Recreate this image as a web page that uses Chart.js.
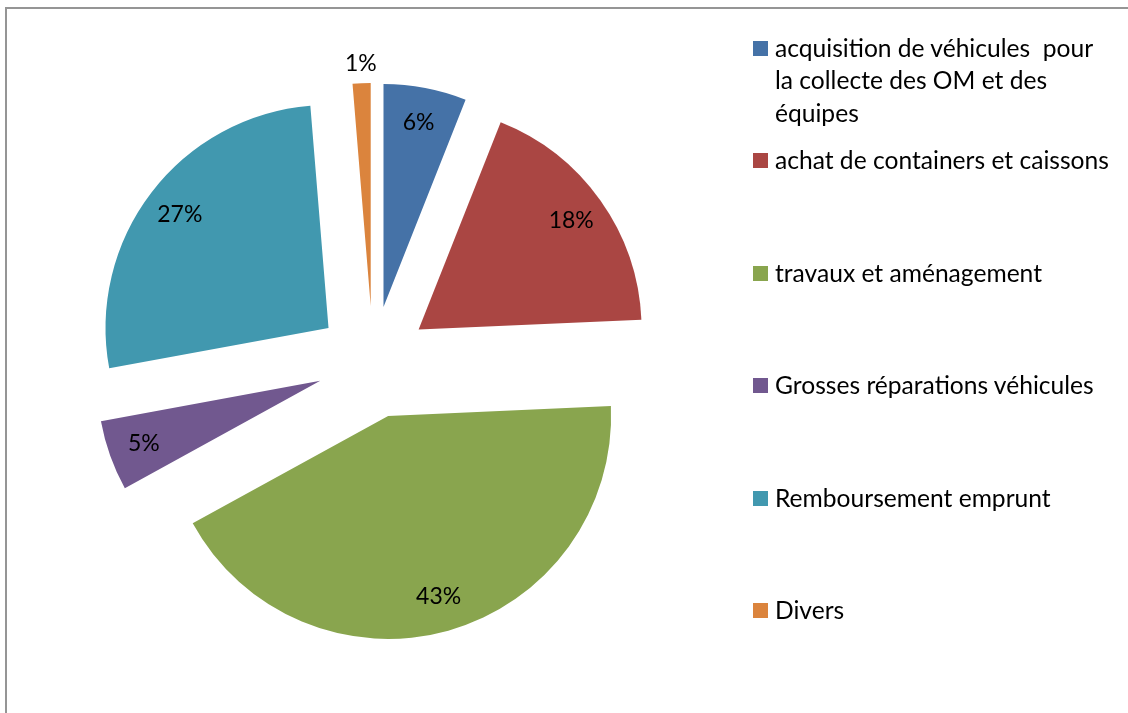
<!DOCTYPE html>
<html lang="fr">
<head>
<meta charset="utf-8">
<title>Répartition des dépenses</title>
<script src="https://cdn.jsdelivr.net/npm/chart.js@4.4.1/dist/chart.umd.min.js"></script>
<style>
    html, body { margin: 0; padding: 0; background: #fff; overflow: hidden; }
    #wrap { position: relative; width: 1128px; height: 713px; }
    #frame {
        position: absolute; left: 5px; top: 7px; width: 1200px; height: 800px;
        border-left: 2px solid #959595; border-top: 2px solid #959595;
    }
    #pie { position: absolute; left: 0; top: 0; }
    .legend-item { position: absolute; left: 753px; font-family: Lato, sans-serif; font-size: 24.6px; line-height: 32.5px; color: #000; }
    .legend-box { position: absolute; left: 0; top: 9px; width: 15px; height: 15px; }
    .legend-text { margin-left: 22px; white-space: pre; }
</style>
</head>
<body>
<div id="wrap">
    <div id="frame"></div>
    <canvas id="pie" width="1128" height="713"></canvas>
    <div id="legend"></div>
</div>
<script>
// Data
const categories = [
    ['acquisition de véhicules  pour', 'la collecte des OM et des', 'équipes'],
    'achat de containers et caissons',
    'travaux et aménagement',
    'Grosses réparations véhicules',
    'Remboursement emprunt',
    'Divers'
];
const shares = [6.0, 18.3, 42.7, 5.1, 26.6, 1.3];
const sliceColors = ['#4572A7', '#AA4643', '#89A54E', '#71588F', '#4198AF', '#DB843D'];

// Look
const EXPLODE = 56;      // px every slice is pulled out of the centre
const PIE_RADIUS = 223;
const LABEL_FONT = '23px Lato, sans-serif';

// Pull every slice away from the centre along its mid angle
const explodePlugin = {
    id: 'explode',
    afterDatasetUpdate(chart, args) {
        args.meta.data.forEach(arc => {
            const mid = (arc.startAngle + arc.endAngle) / 2;
            arc.x += Math.cos(mid) * EXPLODE;
            arc.y += Math.sin(mid) * EXPLODE;
        });
    }
};

// Percent labels, inside the slice, outside for the tiny ones
const percentPlugin = {
    id: 'percentLabels',
    afterDatasetsDraw(chart) {
        const ctx = chart.ctx;
        const meta = chart.getDatasetMeta(0);
        const total = shares.reduce((a, b) => a + b, 0);
        ctx.save();
        ctx.font = LABEL_FONT;
        ctx.fillStyle = '#000';
        ctx.textAlign = 'center';
        ctx.textBaseline = 'middle';
        meta.data.forEach((arc, i) => {
            const pct = shares[i] / total * 100;
            const mid = (arc.startAngle + arc.endAngle) / 2;
            const r = pct < 3 ? arc.outerRadius + 20 : arc.outerRadius * 0.84;
            ctx.fillText(Math.round(pct) + '%', arc.x + Math.cos(mid) * r, arc.y + Math.sin(mid) * r);
        });
        ctx.restore();
    }
};

new Chart(document.getElementById('pie'), {
    type: 'pie',
    data: {
        labels: categories,
        datasets: [{
            data: shares,
            backgroundColor: sliceColors,
            borderWidth: 0
        }]
    },
    options: {
        responsive: false,
        animation: false,
        events: [],
        radius: PIE_RADIUS,
        layout: { padding: { left: 20, right: 402, top: 20, bottom: 9 } },
        plugins: {
            legend: { display: false },
            tooltip: { enabled: false }
        }
    },
    plugins: [explodePlugin, percentPlugin]
});

// HTML legend
const legend = document.getElementById('legend');
categories.forEach((label, i) => {
    const lines = Array.isArray(label) ? label : [label];
    const item = document.createElement('div');
    item.className = 'legend-item';
    item.style.top = (48 + i * 112.5 - 16.25) + 'px';
    item.innerHTML = `<div class="legend-box" style="background:${sliceColors[i]}"></div>` +
        `<div class="legend-text">${lines.join('\n')}</div>`;
    legend.appendChild(item);
});
</script>
</body>
</html>
